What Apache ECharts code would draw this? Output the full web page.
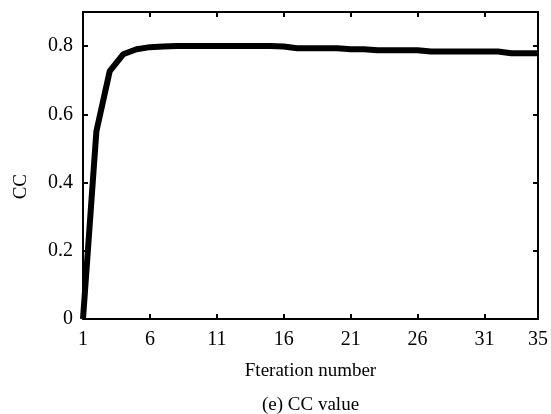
<!DOCTYPE html>
<html>
<head>
<meta charset="utf-8">
<script src="https://cdn.jsdelivr.net/npm/echarts@6/dist/echarts.min.js"></script>
<style>
  html, body { margin: 0; padding: 0; background: #fff; }
  #chart { width: 551px; height: 414px; }
</style>
</head>
<body>
<div id="chart"></div>
<script>
// iteration numbers 1..35
const iterations = [
  1, 2, 3, 4, 5, 6, 7, 8, 9, 10, 11, 12, 13, 14, 15, 16, 17, 18,
  19, 20, 21, 22, 23, 24, 25, 26, 27, 28, 29, 30, 31, 32, 33, 34, 35
];
// CC value per iteration
const ccValues = [
  0, 0.55, 0.727, 0.776, 0.791, 0.797, 0.799, 0.8, 0.8, 0.8, 0.8, 0.8,
  0.8, 0.8, 0.8, 0.799, 0.794, 0.794, 0.794, 0.794, 0.791, 0.791, 0.788,
  0.788, 0.788, 0.788, 0.784, 0.784, 0.784, 0.784, 0.784, 0.784, 0.779,
  0.779, 0.779
];
const shownTicks = [1, 6, 11, 16, 21, 26, 31, 35];

const font = 'Liberation Serif';
const showTick = (idx) => shownTicks.includes(iterations[idx]);

const chart = echarts.init(document.getElementById('chart'));

const xBase = {
  type: 'category',
  data: iterations.map(String),
  boundaryGap: false,
  axisLine: { onZero: false, lineStyle: { color: '#000', width: 2 } },
  axisTick: { inside: true, length: 5, interval: showTick, lineStyle: { color: '#000', width: 2 } },
  splitLine: { show: false }
};
const yBase = {
  type: 'value',
  min: 0,
  max: 0.9,
  interval: 0.2,
  axisLine: { show: true, onZero: false, lineStyle: { color: '#000', width: 2 } },
  axisTick: { show: true, inside: true, length: 5, lineStyle: { color: '#000', width: 2 } },
  splitLine: { show: false }
};

chart.setOption({
  animation: false,
  backgroundColor: '#fff',
  grid: { left: 83, right: 13, top: 12, bottom: 95 },
  xAxis: [
    Object.assign({}, xBase, {
      position: 'bottom',
      name: 'Fteration number',
      nameLocation: 'middle',
      nameGap: 43,
      nameTextStyle: { fontFamily: font, fontSize: 19, color: '#000' },
      axisLabel: {
        interval: showTick, margin: 11,
        fontFamily: font, fontSize: 20, color: '#000'
      }
    }),
    Object.assign({}, xBase, { position: 'top', axisLabel: { show: false } })
  ],
  yAxis: [
    Object.assign({}, yBase, {
      position: 'left',
      axisLabel: {
        showMaxLabel: false, margin: 10,
        fontFamily: font, fontSize: 20, color: '#000'
      }
    }),
    Object.assign({}, yBase, { position: 'right', axisLabel: { show: false } })
  ],
  graphic: [
    {
      type: 'text', left: 12, top: 174, rotation: Math.PI / 2,
      style: { text: 'CC', font: '19px "Liberation Serif"', fill: '#000' }
    },
    {
      type: 'text', left: 262, top: 396,
      style: { text: '(e) CC value', font: '19px "Liberation Serif"', fill: '#000' }
    }
  ],
  series: [{
    type: 'line',
    data: ccValues,
    showSymbol: false,
    lineStyle: { color: '#000', width: 6 },
    itemStyle: { color: '#000' }
  }]
});
</script>
</body>
</html>
